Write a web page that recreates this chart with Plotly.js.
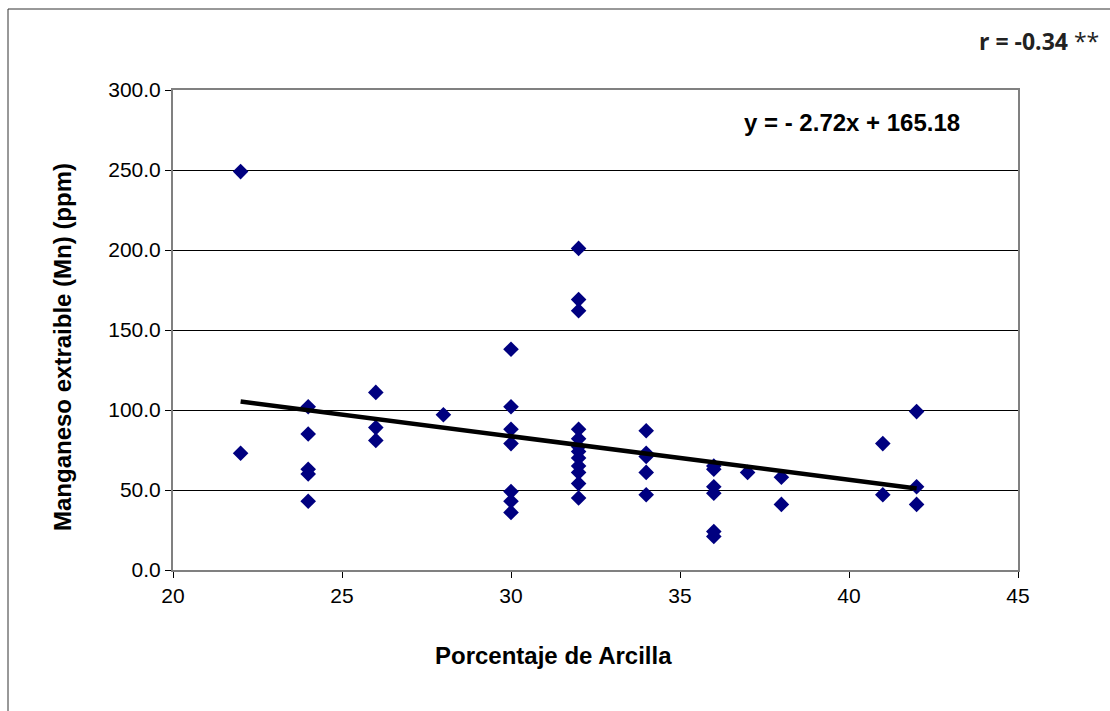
<!DOCTYPE html>
<html>
<head>
<meta charset="utf-8">
<script src="https://cdn.plot.ly/plotly-3.0.1.min.js"></script>
<style>
html,body{margin:0;padding:0;background:#fff;}
#chart{width:1110px;height:711px;}
</style>
</head>
<body>
<div id="chart"></div>
<script>
// Data
const arcilla = [22,22,
  24,24,24,24,24,
  26,26,26,
  28,
  30,30,30,30,30,30,30,
  32,32,32,32,32,32,32,32,32,32,32,32,
  34,34,34,34,34,
  36,36,36,36,36,36,
  37,
  38,38,
  41,41,
  42,42,42];
const manganeso = [249,73,
  102,85,63,60,43,
  111,89,81,
  97,
  138,102,88,79,49,43,36,
  201,169,162,88,82,77,74,70,65,61,54,45,
  87,73,71,61,47,
  65,63,52,48,24,21,
  61,
  58,41,
  79,47,
  99,52,41];
const slope = -2.72;
const intercept = 165.18;
const trendX = [22, 42];
const trendY = trendX.map(x => slope * x + intercept);
const yTickVals = [0,50,100,150,200,250,300];
const xTickVals = [20,25,30,35,40,45];

const L = 173, R = 1018, T = 90, B = 570, W = 1110, H = 711;
const px = v => (v - L) / (R - L);
const py = v => (B - v) / (B - T);

const traces = [
  {
    type: 'scatter', mode: 'markers',
    x: arcilla, y: manganeso,
    marker: {symbol: 'diamond', size: 12, color: '#000080', line: {width: 0}},
    hoverinfo: 'x+y', showlegend: false
  },
  {
    type: 'scatter', mode: 'lines',
    x: trendX, y: trendY,
    line: {color: '#000000', width: 4.5},
    showlegend: false
  }
];

const font = 'Arial, "Liberation Sans", sans-serif';

const layout = {
  width: W, height: H,
  margin: {l: L, r: W - R, t: T, b: H - B},
  paper_bgcolor: '#ffffff', plot_bgcolor: '#ffffff',
  font: {family: font, color: '#000000', size: 21},
  showlegend: false,
  xaxis: {
    range: [20, 45], tickvals: xTickVals, ticktext: xTickVals.map(String),
    showgrid: false, zeroline: false,
    showline: true, linecolor: '#808080', linewidth: 2, mirror: true,
    ticks: 'outside', ticklen: 6, tickcolor: '#000000', tickwidth: 1,
    tickfont: {size: 21, family: font},
    title: {text: ''},
    automargin: false
  },
  yaxis: {
    range: [0, 300], tickvals: yTickVals, ticktext: yTickVals.map(v => v.toFixed(1)),
    showgrid: true, gridcolor: '#000000', gridwidth: 1,
    zeroline: false,
    showline: true, linecolor: '#808080', linewidth: 2, mirror: true,
    ticks: 'outside', ticklen: 6, tickcolor: '#000000', tickwidth: 1,
    tickfont: {size: 21, family: font},
    title: {text: ''},
    automargin: false
  },
  shapes: [
    {type: 'rect', xref: 'paper', yref: 'paper',
     x0: px(8), x1: px(1125), y0: py(730), y1: py(9),
     line: {color: '#333333', width: 1}, fillcolor: 'rgba(0,0,0,0)', layer: 'below'}
  ],
  annotations: [
    {xref: 'paper', yref: 'paper', x: px(553), y: py(655),
     text: '<b>Porcentaje de Arcilla</b>', showarrow: false,
     font: {size: 24, family: font}, xanchor: 'center', yanchor: 'middle'},
    {xref: 'paper', yref: 'paper', x: px(62), y: py(347),
     text: '<b>Manganeso extraible (Mn) (ppm)</b>', showarrow: false, textangle: -90,
     font: {size: 24, family: font}, xanchor: 'center', yanchor: 'middle'},
    {xref: 'paper', yref: 'paper', x: px(852), y: py(123),
     text: '<b>y = - 2.72x + 165.18</b>', showarrow: false,
     font: {size: 24, family: font}, xanchor: 'center', yanchor: 'middle'},
    {xref: 'paper', yref: 'paper', x: px(1101), y: py(41),
     text: '<b>r = -0.34</b> **', showarrow: false,
     font: {size: 23, family: '"Open Sans", "Noto Sans", sans-serif', color: '#222222'},
     xanchor: 'right', yanchor: 'middle'}
  ]
};

Plotly.newPlot('chart', traces, layout, {displayModeBar: false, staticPlot: true});
</script>
</body>
</html>
